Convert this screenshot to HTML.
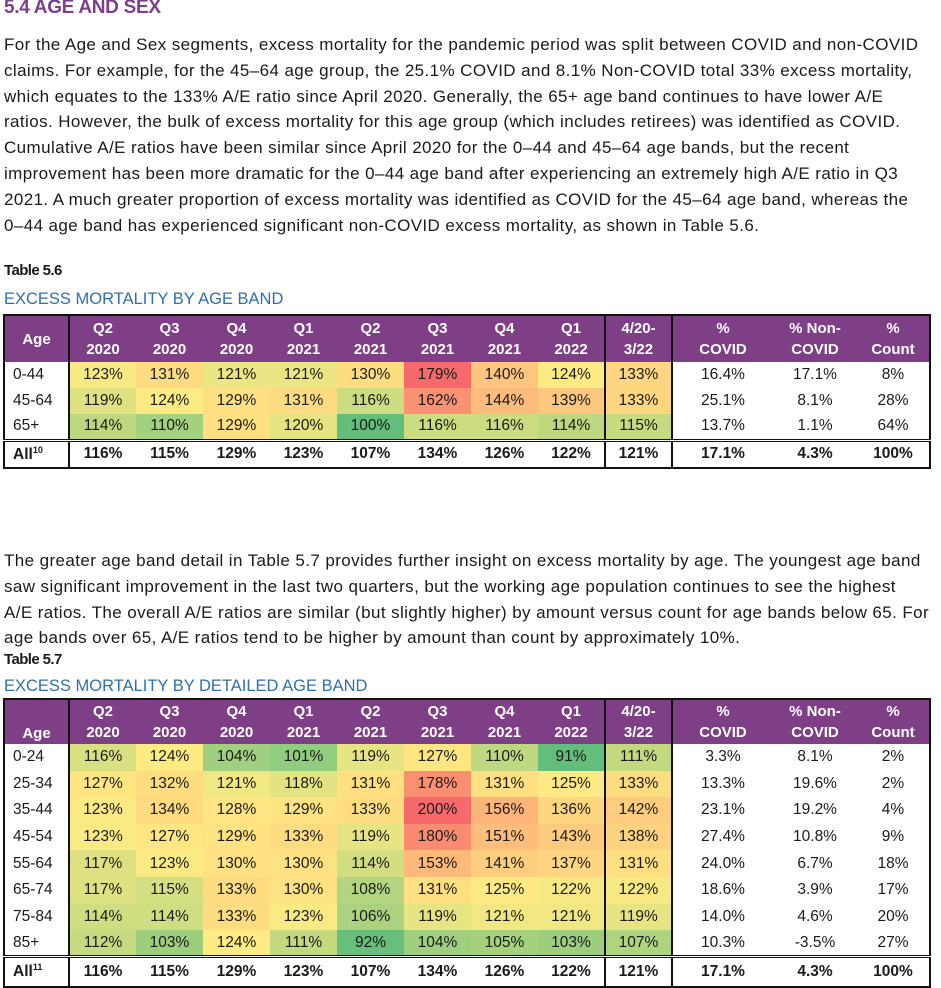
<!DOCTYPE html>
<html><head><meta charset="utf-8"><style>
body{margin:0;width:941px;height:987px;background:#fff;position:relative;overflow:hidden;font-family:"Liberation Sans",sans-serif;color:#1a1a1a}
.h{position:absolute;left:4px;top:-3px;font-size:19px;font-weight:bold;color:#7b3f8c;letter-spacing:-0.3px}
.p{position:absolute;left:4px;font-size:17px;line-height:25.8px;white-space:nowrap;letter-spacing:0.4px}
.tl{position:absolute;left:4px;font-size:15px;font-weight:bold;letter-spacing:-0.6px}
.tt{position:absolute;left:4px;font-size:16.5px;color:#2e6fad;letter-spacing:0}
table{position:absolute;left:3px;border-collapse:collapse;table-layout:fixed;border:2px solid #111;font-size:15.5px}
td,th{padding:0;text-align:center;overflow:hidden;white-space:nowrap}
th{background:#7e3f87;color:#fff;font-weight:bold;font-size:15px;line-height:21px}
td.a{text-align:left;padding-left:8px}
.sa{border-right:2px solid #111}
tr.all td{border-top:3px double #111;font-weight:bold}
</style></head><body>
<div class="h">5.4 AGE AND SEX</div>
<div class="p" style="top:32px">For the Age and Sex segments, excess mortality for the pandemic period was split between COVID and non-COVID<br>claims. For example, for the 45–64 age group, the 25.1% COVID and 8.1% Non-COVID total 33% excess mortality,<br>which equates to the 133% A/E ratio since April 2020. Generally, the 65+ age band continues to have lower A/E<br>ratios. However, the bulk of excess mortality for this age group (which includes retirees) was identified as COVID.<br>Cumulative A/E ratios have been similar since April 2020 for the 0–44 and 45–64 age bands, but the recent<br>improvement has been more dramatic for the 0–44 age band after experiencing an extremely high A/E ratio in Q3<br>2021. A much greater proportion of excess mortality was identified as COVID for the 45–64 age band, whereas the<br>0–44 age band has experienced significant non-COVID excess mortality, as shown in Table 5.6.</div>
<div class="tl" style="top:262px">Table 5.6</div>
<div class="tt" style="top:290px">EXCESS MORTALITY BY AGE BAND</div>
<table id="t1" style="top:314px;width:928px">
<colgroup><col style="width:65px"><col span="9" style="width:67px"><col style="width:101px"><col style="width:84px"><col style="width:73px"></colgroup>
<tr style="height:47px"><th class="sa">Age</th><th>Q2<br>2020</th><th>Q3<br>2020</th><th>Q4<br>2020</th><th>Q1<br>2021</th><th>Q2<br>2021</th><th>Q3<br>2021</th><th>Q4<br>2021</th><th class="sa">Q1<br>2022</th><th class="sa">4/20-<br>3/22</th><th>%<br>COVID</th><th>% Non-<br>COVID</th><th>%<br>Count</th></tr>
<tr style="height:26px"><td class="a sa">0-44</td><td class="c">123%</td><td class="c">131%</td><td class="c">121%</td><td class="c">121%</td><td class="c">130%</td><td class="c">179%</td><td class="c">140%</td><td class="c sa">124%</td><td class="c sa">133%</td><td>16.4%</td><td>17.1%</td><td>8%</td></tr>
<tr style="height:26px"><td class="a sa">45-64</td><td class="c">119%</td><td class="c">124%</td><td class="c">129%</td><td class="c">131%</td><td class="c">116%</td><td class="c">162%</td><td class="c">144%</td><td class="c sa">139%</td><td class="c sa">133%</td><td>25.1%</td><td>8.1%</td><td>28%</td></tr>
<tr style="height:26px"><td class="a sa">65+</td><td class="c">114%</td><td class="c">110%</td><td class="c">129%</td><td class="c">120%</td><td class="c">100%</td><td class="c">116%</td><td class="c">116%</td><td class="c sa">114%</td><td class="c sa">115%</td><td>13.7%</td><td>1.1%</td><td>64%</td></tr>
<tr class="all" style="height:28px"><td class="a sa">All<sup style="font-size:9px">10</sup></td><td>116%</td><td>115%</td><td>129%</td><td>123%</td><td>107%</td><td>134%</td><td>126%</td><td class="sa">122%</td><td class="sa">121%</td><td>17.1%</td><td>4.3%</td><td>100%</td></tr>
</table>
<div class="p" style="top:548px">The greater age band detail in Table 5.7 provides further insight on excess mortality by age. The youngest age band<br>saw significant improvement in the last two quarters, but the working age population continues to see the highest<br>A/E ratios. The overall A/E ratios are similar (but slightly higher) by amount versus count for age bands below 65. For<br>age bands over 65, A/E ratios tend to be higher by amount than count by approximately 10%.</div>
<div class="tl" style="top:651px">Table 5.7</div>
<div class="tt" style="top:677px">EXCESS MORTALITY BY DETAILED AGE BAND</div>
<table id="t2" style="top:698px;width:928px">
<colgroup><col style="width:65px"><col span="9" style="width:67px"><col style="width:101px"><col style="width:84px"><col style="width:73px"></colgroup>
<tr style="height:45px"><th class="sa" style="vertical-align:bottom">Age</th><th>Q2<br>2020</th><th>Q3<br>2020</th><th>Q4<br>2020</th><th>Q1<br>2021</th><th>Q2<br>2021</th><th>Q3<br>2021</th><th>Q4<br>2021</th><th class="sa">Q1<br>2022</th><th class="sa">4/20-<br>3/22</th><th>%<br>COVID</th><th>% Non-<br>COVID</th><th>%<br>Count</th></tr>
<tr style="height:26.6px"><td class="a sa">0-24</td><td class="c">116%</td><td class="c">124%</td><td class="c">104%</td><td class="c">101%</td><td class="c">119%</td><td class="c">127%</td><td class="c">110%</td><td class="c sa">91%</td><td class="c sa">111%</td><td>3.3%</td><td>8.1%</td><td>2%</td></tr>
<tr style="height:26.6px"><td class="a sa">25-34</td><td class="c">127%</td><td class="c">132%</td><td class="c">121%</td><td class="c">118%</td><td class="c">131%</td><td class="c">178%</td><td class="c">131%</td><td class="c sa">125%</td><td class="c sa">133%</td><td>13.3%</td><td>19.6%</td><td>2%</td></tr>
<tr style="height:26.6px"><td class="a sa">35-44</td><td class="c">123%</td><td class="c">134%</td><td class="c">128%</td><td class="c">129%</td><td class="c">133%</td><td class="c">200%</td><td class="c">156%</td><td class="c sa">136%</td><td class="c sa">142%</td><td>23.1%</td><td>19.2%</td><td>4%</td></tr>
<tr style="height:26.6px"><td class="a sa">45-54</td><td class="c">123%</td><td class="c">127%</td><td class="c">129%</td><td class="c">133%</td><td class="c">119%</td><td class="c">180%</td><td class="c">151%</td><td class="c sa">143%</td><td class="c sa">138%</td><td>27.4%</td><td>10.8%</td><td>9%</td></tr>
<tr style="height:26.6px"><td class="a sa">55-64</td><td class="c">117%</td><td class="c">123%</td><td class="c">130%</td><td class="c">130%</td><td class="c">114%</td><td class="c">153%</td><td class="c">141%</td><td class="c sa">137%</td><td class="c sa">131%</td><td>24.0%</td><td>6.7%</td><td>18%</td></tr>
<tr style="height:26.6px"><td class="a sa">65-74</td><td class="c">117%</td><td class="c">115%</td><td class="c">133%</td><td class="c">130%</td><td class="c">108%</td><td class="c">131%</td><td class="c">125%</td><td class="c sa">122%</td><td class="c sa">122%</td><td>18.6%</td><td>3.9%</td><td>17%</td></tr>
<tr style="height:26.6px"><td class="a sa">75-84</td><td class="c">114%</td><td class="c">114%</td><td class="c">133%</td><td class="c">123%</td><td class="c">106%</td><td class="c">119%</td><td class="c">121%</td><td class="c sa">121%</td><td class="c sa">119%</td><td>14.0%</td><td>4.6%</td><td>20%</td></tr>
<tr style="height:26.6px"><td class="a sa">85+</td><td class="c">112%</td><td class="c">103%</td><td class="c">124%</td><td class="c">111%</td><td class="c">92%</td><td class="c">104%</td><td class="c">105%</td><td class="c sa">103%</td><td class="c sa">107%</td><td>10.3%</td><td>-3.5%</td><td>27%</td></tr>
<tr class="all" style="height:30px"><td class="a sa">All<sup style="font-size:9px">11</sup></td><td>116%</td><td>115%</td><td>129%</td><td>123%</td><td>107%</td><td>134%</td><td>126%</td><td class="sa">122%</td><td class="sa">121%</td><td>17.1%</td><td>4.3%</td><td>100%</td></tr>
</table>
<script>
function mix(a,b,t){return a.map((v,i)=>Math.round(v+(b[i]-v)*t));}
var G=[99,190,123],Y=[255,235,132],R=[248,105,107];
function color(tid,lo,mid,hi){
 document.querySelectorAll('#'+tid+' td.c').forEach(function(td){
  var v=parseFloat(td.textContent),c;
  if(v<=mid)c=mix(G,Y,Math.max(0,(v-lo)/(mid-lo)));else c=mix(Y,R,Math.min(1,(v-mid)/(hi-mid)));
  td.style.background='rgb('+c.join(',')+')';
 });
}
color('t1',100,124,179);
color('t2',91,124,200);
</script>
</body></html>
